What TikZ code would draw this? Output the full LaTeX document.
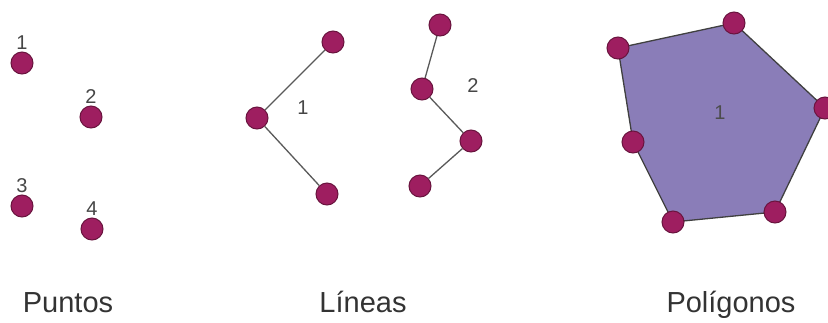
\documentclass[tikz,border=0pt]{standalone}
\usepackage{fontspec}
\setmainfont{Liberation Sans}
\usetikzlibrary{positioning,backgrounds}
\definecolor{dotfill}{RGB}{158,30,96}
\definecolor{dotedge}{RGB}{105,20,62}
\definecolor{polyfill}{RGB}{138,125,184}
\definecolor{numgray}{RGB}{70,70,70}

\begin{document}
\begin{tikzpicture}[x=1pt, y=-1pt,
    vtx/.style={circle, draw=dotedge, fill=dotfill, line width=1pt, minimum size=22pt, inner sep=0pt},
    num/.style={text=numgray, font=\fontsize{20}{24}\selectfont, inner sep=0pt},
    caption/.style={text=black!80, font=\fontsize{29}{34}\selectfont, anchor=base},
    seg/.style={draw=black!65, line width=1.3pt},
    poly/.style={fill=polyfill, draw=black!75, line width=1.3pt}]
  \useasboundingbox (0,0) rectangle (828,322);
  % Puntos
  \foreach \n/\x/\y in {1/22/63, 2/91/117, 3/22/206, 4/92/229}{
    \node[vtx] (P\n) at (\x,\y) {};
    \node[num, above=2pt of P\n] (NP\n) {\n};
  }
  % Lineas
  \foreach \n/\x/\y in {1/333/42, 2/257/118, 3/327/194}{
    \node[vtx] (A\n) at (\x,\y) {};
  }
  \foreach \n/\x/\y in {1/440/25, 2/422/89, 3/471/141, 4/420/186}{
    \node[vtx] (B\n) at (\x,\y) {};
  }
  \draw[seg] (A1) -- (A2) -- (A3);
  \draw[seg] (B1) -- (B2) -- (B3) -- (B4);
  \node[num] (NA) at (303,108) {1};
  \node[num] (NB) at (473,86) {2};
  % Poligonos
  \foreach \n/\x/\y in {1/618/48, 2/734/23, 3/825/108, 4/775/212, 5/673/222, 6/633/142}{
    \node[vtx] (Q\n) at (\x,\y) {};
  }
  \begin{pgfonlayer}{background}
    \filldraw[poly] (Q1.center) -- (Q2.center) -- (Q3.center) -- (Q4.center)
      -- (Q5.center) -- (Q6.center) -- cycle;
  \end{pgfonlayer}
  \node[num, text=black!70] (NQ) at (720,113) {1};
  % Captions
  \node[caption] (cP) at (68,312) {Puntos};
  \node[caption] (cL) at (363,312) {Líneas};
  \node[caption] (cQ) at (731,312) {Polígonos};
\end{tikzpicture}
\end{document}
